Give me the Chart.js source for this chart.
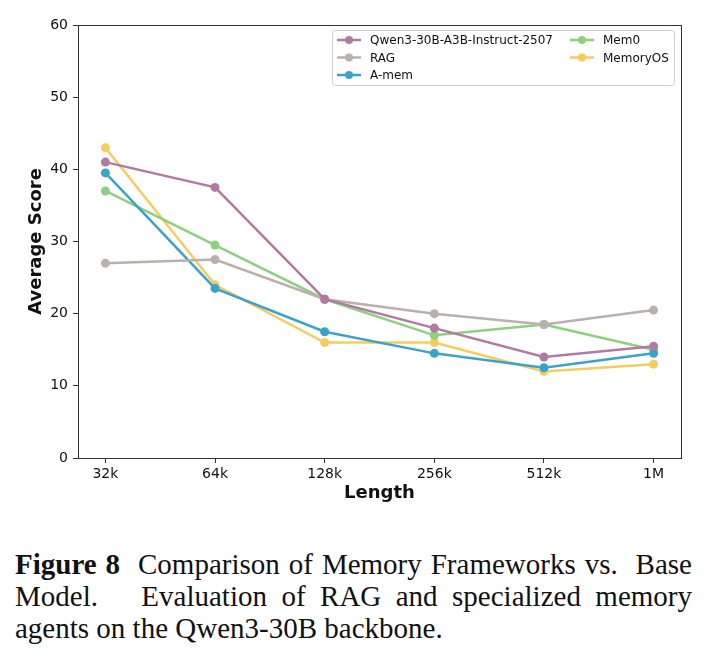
<!DOCTYPE html>
<html>
<head>
<meta charset="utf-8">
<script src="https://cdn.jsdelivr.net/npm/chart.js@4.4.0/dist/chart.umd.min.js"></script>
<style>
  html, body { margin: 0; padding: 0; background: #fff; }
  body { width: 709px; height: 657px; overflow: hidden; }
  #wrap { position: absolute; left: 0; top: 0; width: 709px; height: 515px; }
  #caption {
    position: absolute; left: 15px; top: 548px; width: 677px;
    font-family: "Liberation Serif", "DejaVu Serif", serif;
    font-size: 29px; line-height: 32px; color: #111;
  }
  #caption .j { text-align: justify; text-align-last: justify; }
</style>
</head>
<body>
<div id="wrap"><canvas id="chart" width="709" height="515"></canvas></div>
<div id="caption">
  <div class="j"><b>Figure 8</b>&nbsp; Comparison of Memory Frameworks vs.&nbsp; Base</div>
  <div class="j">Model.&nbsp;&nbsp; Evaluation of RAG and specialized memory</div>
  <div>agents on the Qwen3-30B backbone.</div>
</div>
<script>
// Data
const lengths = ['32k', '64k', '128k', '256k', '512k', '1M'];
const qwen = [41, 37.5, 22, 18, 14, 15.5];
const rag = [27, 27.5, 22, 20, 18.5, 20.5];
const amem = [39.5, 23.5, 17.5, 14.5, 12.5, 14.5];
const mem0 = [37, 29.5, 22, 17, 18.5, 15];
const memoryOS = [43, 24, 16, 16, 12, 13];
const yTicks = [0, 10, 20, 30, 40, 50, 60];

const series = [
  { label: 'Qwen3-30B-A3B-Instruct-2507', data: qwen, color: '#b07aa1' },
  { label: 'RAG', data: rag, color: '#bab0ac' },
  { label: 'A-mem', data: amem, color: '#3ba3c9' },
  { label: 'Mem0', data: mem0, color: '#8cd17d' },
  { label: 'MemoryOS', data: memoryOS, color: '#f3cd5f' }
];

// frame + legend like matplotlib
const framePlugin = {
  id: 'frame',
  afterDraw(chart) {
    const { ctx, chartArea: a } = chart;
    ctx.save();
    ctx.strokeStyle = '#333';
    ctx.lineWidth = 1;
    ctx.strokeRect(Math.round(a.left) + 0.5, Math.round(a.top) + 0.5,
      Math.round(a.right - a.left), Math.round(a.bottom - a.top));

    // legend box, 2 columns filled top to bottom
    const bx = 332, by = 30, bw = 342, bh = 55;
    ctx.fillStyle = 'rgba(255,255,255,0.85)';
    ctx.strokeStyle = '#d0d0d0';
    ctx.beginPath();
    ctx.roundRect(bx + 0.5, by + 0.5, bw, bh, 3);
    ctx.fill();
    ctx.stroke();
    ctx.font = '12px "DejaVu Sans"';
    ctx.textBaseline = 'middle';
    chart.data.datasets.forEach((ds, i) => {
      const col = Math.floor(i / 3), row = i % 3;
      const x0 = col === 0 ? 337 : 570;
      const y = 40 + row * 17.5;
      ctx.strokeStyle = ds.borderColor;
      ctx.lineWidth = 2.5;
      ctx.beginPath();
      ctx.moveTo(x0, y);
      ctx.lineTo(x0 + 24, y);
      ctx.stroke();
      ctx.fillStyle = ds.borderColor;
      ctx.beginPath();
      ctx.arc(x0 + 12, y, 4, 0, Math.PI * 2);
      ctx.fill();
      ctx.fillStyle = '#111';
      ctx.fillText(ds.label, x0 + 33, y + 1);
    });
    ctx.restore();
  }
};

new Chart(document.getElementById('chart'), {
  type: 'line',
  data: {
    datasets: series.map(s => ({
      label: s.label,
      data: s.data.map((v, i) => ({ x: i, y: v })),
      borderColor: s.color,
      backgroundColor: s.color,
      borderWidth: 2.5,
      pointRadius: 4.5,
      pointBorderWidth: 0,
      tension: 0
    }))
  },
  options: {
    responsive: false,
    animation: false,
    events: [],
    layout: { padding: { left: 0, right: 28, top: 25, bottom: 0 } },
    plugins: { legend: { display: false }, tooltip: { enabled: false } },
    scales: {
      x: {
        type: 'linear',
        min: -0.25,
        max: 5.25,
        afterBuildTicks(scale) { scale.ticks = lengths.map((_, i) => ({ value: i })); },
        afterFit(scale) { scale.height = 57; },
        ticks: {
          callback: v => lengths[v],
          color: '#111',
          font: { family: 'DejaVu Sans', size: 14 },
          padding: 3,
          maxRotation: 0
        },
        grid: { drawOnChartArea: false, tickLength: 5, color: '#333' },
        border: { color: '#333' },
        title: {
          display: true, text: 'Length', color: '#111',
          font: { family: 'DejaVu Sans', size: 18, weight: 'bold' },
          padding: { top: 0, bottom: 11 }
        }
      },
      y: {
        min: 0,
        max: 60,
        afterBuildTicks(scale) { scale.ticks = yTicks.map(v => ({ value: v })); },
        afterFit(scale) { scale.width = 78; },
        ticks: {
          color: '#111',
          font: { family: 'DejaVu Sans', size: 14 },
          padding: 5
        },
        grid: { drawOnChartArea: false, tickLength: 5, color: '#333' },
        border: { color: '#333' },
        title: {
          display: true, text: 'Average Score', color: '#111',
          font: { family: 'DejaVu Sans', size: 18, weight: 'bold' },
          padding: { top: 26, bottom: 0 }
        }
      }
    }
  },
  plugins: [framePlugin]
});
</script>
</body>
</html>
